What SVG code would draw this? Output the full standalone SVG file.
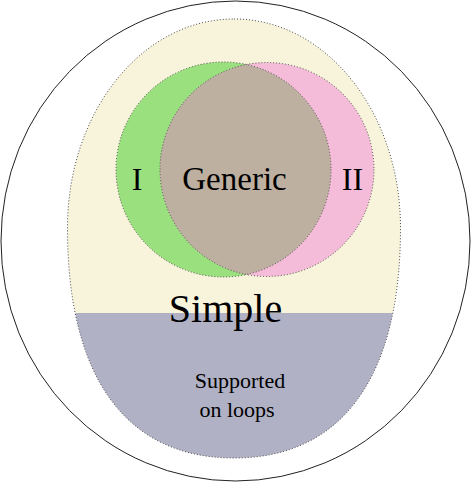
<svg xmlns="http://www.w3.org/2000/svg" width="471" height="482" viewBox="0 0 471 482">
<style>
.dot{fill:none;stroke:#4a4a4a;stroke-width:1;stroke-dasharray:1 2}
.lbl{font-family:"Liberation Serif","DejaVu Serif",serif;fill:#000;text-anchor:middle}
</style>
<defs>
<path id="eggPath" d="M234,19 C326,19 400.5,112 400.5,228 C400.5,377.5 342,458 234,458 C126,458 67.5,377.5 67.5,228 C67.5,112 142,19 234,19 Z"/>
<clipPath id="eggClip"><use href="#eggPath"/></clipPath>
<clipPath id="greenClip"><circle cx="223.5" cy="169.5" r="107.5"/></clipPath>
</defs>
<g id="outer">
<ellipse cx="235.5" cy="241" rx="234.5" ry="240" fill="#fff" stroke="#222" stroke-width="1"/>
</g>
<g id="simple">
<g clip-path="url(#eggClip)">
<rect x="60" y="10" width="350" height="303" fill="#f8f4dc"/>
<rect x="60" y="313" width="350" height="160" fill="#b1b1c5"/>
</g>
<use href="#eggPath" class="dot"/>
<text class="lbl" x="225.5" y="322" font-size="40">Simple</text>
</g>
<g id="loops">
<text class="lbl" x="240" y="388" font-size="22">Supported</text>
<text class="lbl" x="237" y="417" font-size="22">on loops</text>
</g>
<g id="typeI">
<circle cx="223.5" cy="169.5" r="107.5" fill="#9ae07f"/>
</g>
<g id="typeII">
<circle cx="267" cy="169.5" r="107" fill="#f4bcd9"/>
</g>
<g id="generic">
<circle cx="267" cy="169.5" r="107" fill="#beb0a0" clip-path="url(#greenClip)"/>
</g>
<g id="outlines">
<circle cx="223.5" cy="169.5" r="107.5" class="dot"/>
<circle cx="267" cy="169.5" r="107" class="dot"/>
</g>
<text class="lbl" x="137" y="190" font-size="32">I</text>
<text class="lbl" x="234.5" y="190" font-size="33">Generic</text>
<text class="lbl" x="352.5" y="190" font-size="32">II</text>
</svg>
